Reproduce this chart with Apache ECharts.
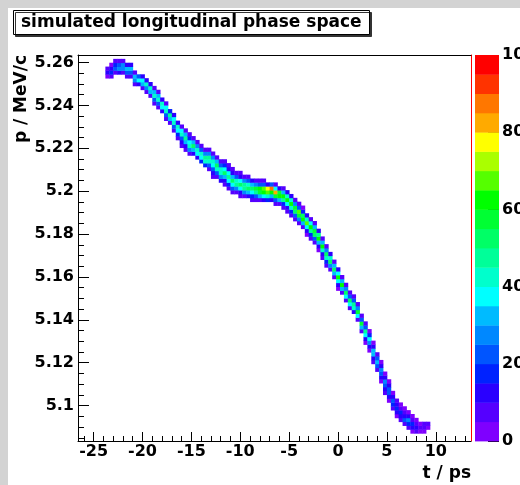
<!DOCTYPE html>
<html><head><meta charset="utf-8">
<script src="https://cdn.jsdelivr.net/npm/echarts@6/dist/echarts.min.js"></script>
<style>
html,body{margin:0;padding:0;background:#d3d3d3;}
#pad{position:absolute;left:8px;top:8px;width:512px;height:477px;background:#fff;}
#chart{position:absolute;left:0;top:0;width:520px;height:485px;}
</style></head><body>
<div id="pad"></div><div id="chart"></div>
<script>
// ---- texts ----
const titleText = 'simulated longitudinal phase space';
const xTitle = 't / ps';
const yTitle = 'p / MeV/c';

// ---- axes ----
const tRange = [-26.6, 13.6];
const pRange = [5.0835, 5.2635];
const xMajorTicks = [-25, -20, -15, -10, -5, 0, 5, 10];
const xMinorTicks = [-26, -24, -23, -22, -21, -19, -18, -17, -16, -14, -13, -12, -11, -9, -8, -7, -6, -4, -3, -2, -1, 1, 2, 3, 4, 6, 7, 8, 9, 11, 12, 13];
const yMajorTicks = [5.1, 5.12, 5.14, 5.16, 5.18, 5.2, 5.22, 5.24, 5.26];
const yMinorTicks = [5.085, 5.09, 5.095, 5.105, 5.11, 5.115, 5.125, 5.13, 5.135, 5.145, 5.15, 5.155, 5.165, 5.17, 5.175, 5.185, 5.19, 5.195, 5.205, 5.21, 5.215, 5.225, 5.23, 5.235, 5.245, 5.25, 5.255];

// ---- histogram binning ----
const tBinStart = -26.6, tBinWidth = 0.4;
const pBinStart = 5.0835, pBinWidth = 0.0018;

// ---- colour scale ----
const zLevels = [0, 5, 10, 15, 20, 25, 30, 35, 40, 45, 50, 55, 60, 65, 70, 75, 80, 85, 90, 95, 100];
const palette = ['#7f00ff', '#5500ff', '#2a00ff', '#0022ff', '#0055ff', '#0088ff', '#00bbff', '#00ffff', '#00ffcc', '#00ff99',
                 '#00ff66', '#00ff33', '#00ff00', '#55ff00', '#aaff00', '#ffff00', '#ffaa00', '#ff7700', '#ff3300', '#ff0000'];

// ---- bin contents: [t-bin index, first p-bin index, contents going up in p] ----
const columns = [
  [7, 94, [4, 10, 5]],
  [8, 94, [5, 16, 12, 4]],
  [9, 95, [9, 22, 18, 5]],
  [10, 95, [12, 28, 22, 6]],
  [11, 95, [9, 26, 28, 8]],
  [12, 94, [6, 22, 30, 10]],
  [13, 94, [5, 22, 32, 12]],
  [14, 92, [7, 28, 34, 8]],
  [15, 92, [12, 36, 20]],
  [16, 91, [8, 30, 38, 12]],
  [17, 90, [7, 28, 40, 14]],
  [18, 89, [8, 32, 42, 12]],
  [19, 87, [5, 20, 40, 30, 7]],
  [20, 86, [6, 24, 42, 34, 8]],
  [21, 85, [12, 36, 44, 14]],
  [22, 83, [5, 22, 40, 36, 9]],
  [23, 82, [9, 32, 46, 18]],
  [24, 80, [5, 20, 42, 38, 11]],
  [25, 78, [5, 16, 38, 44, 14]],
  [26, 76, [6, 12, 22, 42, 36, 9]],
  [27, 75, [7, 14, 30, 48, 32, 8]],
  [28, 74, [9, 26, 44, 38, 16, 5]],
  [29, 74, [12, 34, 50, 30, 8]],
  [30, 73, [13, 37, 44, 26, 6]],
  [31, 72, [15, 38, 42, 24, 5]],
  [32, 71, [17, 40, 48, 28, 6]],
  [33, 70, [9, 21, 42, 46, 26, 6]],
  [34, 68, [6, 13, 22, 37, 44, 28, 6]],
  [35, 68, [9, 24, 40, 52, 30, 7]],
  [36, 67, [10, 28, 44, 42, 22, 6]],
  [37, 66, [6, 14, 34, 50, 38, 17, 5]],
  [38, 65, [5, 18, 36, 46, 36, 13, 5]],
  [39, 64, [6, 20, 39, 52, 32, 10, 5]],
  [40, 64, [9, 28, 48, 44, 24, 6]],
  [41, 63, [6, 14, 37, 54, 38, 13, 5]],
  [42, 63, [9, 26, 46, 48, 28, 6]],
  [43, 63, [11, 34, 54, 42, 20, 6]],
  [44, 62, [5, 15, 36, 52, 33, 10]],
  [45, 62, [8, 24, 48, 56, 28, 8]],
  [46, 62, [9, 32, 56, 60, 24, 5]],
  [47, 62, [12, 38, 60, 66, 20, 5]],
  [48, 62, [15, 44, 66, 78, 14]],
  [49, 62, [10, 34, 60, 88, 24]],
  [50, 61, [5, 20, 56, 80, 36, 8]],
  [51, 61, [8, 32, 64, 56, 14]],
  [52, 60, [5, 17, 46, 62, 32, 8]],
  [53, 59, [5, 14, 38, 60, 44, 12]],
  [54, 58, [5, 17, 42, 64, 40, 10]],
  [55, 57, [8, 24, 50, 58, 28, 6]],
  [56, 56, [8, 28, 56, 66, 24, 5]],
  [57, 55, [9, 34, 62, 52, 17, 4]],
  [58, 53, [4, 12, 38, 68, 44, 14]],
  [59, 52, [5, 17, 46, 64, 36, 9]],
  [60, 51, [5, 21, 52, 58, 30, 8]],
  [61, 49, [4, 11, 34, 62, 46, 14]],
  [62, 47, [5, 14, 40, 60, 34, 8]],
  [63, 45, [5, 17, 42, 54, 28, 6]],
  [64, 44, [8, 28, 52, 40, 11]],
  [65, 42, [8, 32, 54, 34, 8]],
  [66, 39, [4, 12, 36, 62, 38, 10]],
  [67, 38, [8, 34, 60, 32, 8]],
  [68, 36, [8, 36, 54, 28, 6]],
  [69, 34, [9, 38, 50, 24, 5]],
  [70, 33, [10, 40, 46, 20, 5]],
  [71, 31, [8, 38, 56, 26, 5]],
  [72, 28, [8, 34, 58, 24, 5]],
  [73, 25, [4, 12, 36, 46, 20, 5]],
  [74, 23, [4, 11, 28, 38, 17, 4]],
  [75, 20, [5, 12, 30, 34, 14, 4]],
  [76, 18, [8, 22, 32, 24, 8]],
  [77, 15, [4, 11, 24, 28, 12, 4]],
  [78, 12, [5, 12, 22, 26, 11, 4]],
  [79, 10, [4, 11, 20, 24, 12, 4]],
  [80, 8, [5, 15, 20, 11, 4]],
  [81, 6, [4, 11, 18, 12, 5]],
  [82, 5, [5, 12, 16, 8, 4]],
  [83, 4, [8, 20, 13, 5, 3]],
  [84, 3, [5, 17, 26, 11, 4]],
  [85, 2, [4, 12, 15, 7, 3]],
  [86, 2, [5, 10, 7, 3]],
  [87, 2, [4, 8, 4]],
  [88, 2, [3, 5, 6]],
  [89, 3, [4, 5]]
];

// build histogram cells [t centre, p centre, content]
const cells = [];
columns.forEach(function (col) {
  col[2].forEach(function (v, k) {
    cells.push([tBinStart + (col[0] + 0.5) * tBinWidth, pBinStart + (col[1] + k + 0.5) * pBinWidth, v]);
  });
});
const bands = palette.map(function (c, k) { return [zLevels[k], zLevels[k + 1], k]; });

const FONT = 'DejaVu Sans';
const lbl = { fontFamily: FONT, fontWeight: 'bold', fontSize: 16, color: '#000' };
const ttl = { fontFamily: FONT, fontWeight: 'bold', fontSize: 17, color: '#000' };
const black = { color: '#000', width: 1 };
const fmtP = function (v) { return String(parseFloat(Number(v).toFixed(4))); };

const chart = echarts.init(document.getElementById('chart'), null, { renderer: 'canvas' });
chart.setOption({
  animation: false,
  backgroundColor: 'transparent',
  title: {
    text: titleText, left: 13, top: 10, padding: [4, 8, 4, 8],
    backgroundColor: '#fff', borderColor: '#000', borderWidth: 1,
    shadowColor: '#333', shadowOffsetX: 2, shadowOffsetY: 2, shadowBlur: 0,
    textStyle: ttl
  },
  grid: [
    { left: 78, top: 55, right: 49, bottom: 44, containLabel: false, outerBoundsMode: 'none' },
    { left: 475, top: 55, width: 24, bottom: 44, containLabel: false, outerBoundsMode: 'none' }
  ],
  visualMap: {
    type: 'piecewise', show: false, seriesIndex: 0, dimension: 2,
    pieces: palette.map(function (c, k) {
      return k === palette.length - 1 ? { gte: zLevels[k], color: c } : { gte: zLevels[k], lt: zLevels[k + 1], color: c };
    })
  },
  xAxis: [
    { gridIndex: 0, type: 'value', min: tRange[0], max: tRange[1], position: 'bottom',
      axisLine: { show: true, onZero: false, lineStyle: black },
      axisTick: { show: true, inside: true, length: 9, customValues: xMajorTicks, lineStyle: black },
      axisLabel: Object.assign({ customValues: xMajorTicks, margin: 3 }, lbl),
      splitLine: { show: false },
      name: xTitle, nameLocation: 'end', nameGap: 0,
      nameTextStyle: Object.assign({ align: 'right', verticalAlign: 'top', padding: [24, 0, 0, 0] }, ttl) },
    { gridIndex: 0, type: 'value', min: tRange[0], max: tRange[1], position: 'bottom',
      axisLine: { show: false, onZero: false },
      axisTick: { show: true, inside: true, length: 5, customValues: xMinorTicks, lineStyle: black },
      axisLabel: { show: false }, splitLine: { show: false } },
    { gridIndex: 0, type: 'value', min: tRange[0], max: tRange[1], position: 'top',
      axisLine: { show: true, onZero: false, lineStyle: black },
      axisTick: { show: false }, axisLabel: { show: false }, splitLine: { show: false } },
    { gridIndex: 1, type: 'value', min: 0, max: 1, show: false, axisLine: { onZero: false } }
  ],
  yAxis: [
    { gridIndex: 0, type: 'value', min: pRange[0], max: pRange[1], position: 'left',
      axisLine: { show: true, onZero: false, lineStyle: black },
      axisTick: { show: true, inside: true, length: 11, customValues: yMajorTicks, lineStyle: black },
      axisLabel: Object.assign({ customValues: yMajorTicks, margin: 4, formatter: fmtP }, lbl),
      splitLine: { show: false },
      name: yTitle, nameLocation: 'end', nameGap: 0, nameRotate: 90,
      nameTextStyle: Object.assign({ align: 'right', verticalAlign: 'bottom', padding: [0, 0, 48, 0] }, ttl) },
    { gridIndex: 0, type: 'value', min: pRange[0], max: pRange[1], position: 'left',
      axisLine: { show: false, onZero: false },
      axisTick: { show: true, inside: true, length: 6, customValues: yMinorTicks, lineStyle: black },
      axisLabel: { show: false }, splitLine: { show: false } },
    { gridIndex: 0, type: 'value', min: pRange[0], max: pRange[1], position: 'right',
      axisLine: { show: true, onZero: false, lineStyle: { color: '#ff0000', width: 1 } },
      axisTick: { show: false }, axisLabel: { show: false }, splitLine: { show: false } },
    { gridIndex: 1, type: 'value', min: 0, max: 100, interval: 20, position: 'right',
      axisLine: { show: false, onZero: false },
      axisTick: { show: true, inside: true, length: 11, lineStyle: black },
      axisLabel: Object.assign({ margin: 3 }, lbl),
      splitLine: { show: false } }
  ],
  series: [
    { type: 'custom', xAxisIndex: 0, yAxisIndex: 0, clip: true, data: cells,
      renderItem: function (params, api) {
        const t = api.value(0), p = api.value(1);
        const a = api.coord([t - tBinWidth / 2, p + pBinWidth / 2]);
        const b = api.coord([t + tBinWidth / 2, p - pBinWidth / 2]);
        return { type: 'rect', shape: { x: a[0], y: a[1], width: b[0] - a[0] + 0.4, height: b[1] - a[1] + 0.4 },
                 style: { fill: api.visual('color') } };
      } },
    { type: 'custom', xAxisIndex: 3, yAxisIndex: 3, data: bands,
      renderItem: function (params, api) {
        const a = api.coord([0, api.value(1)]);
        const b = api.coord([1, api.value(0)]);
        return { type: 'rect', shape: { x: a[0], y: a[1], width: b[0] - a[0], height: b[1] - a[1] + 0.4 },
                 style: { fill: palette[api.value(2)] } };
      } }
  ]
});
</script>
</body></html>
